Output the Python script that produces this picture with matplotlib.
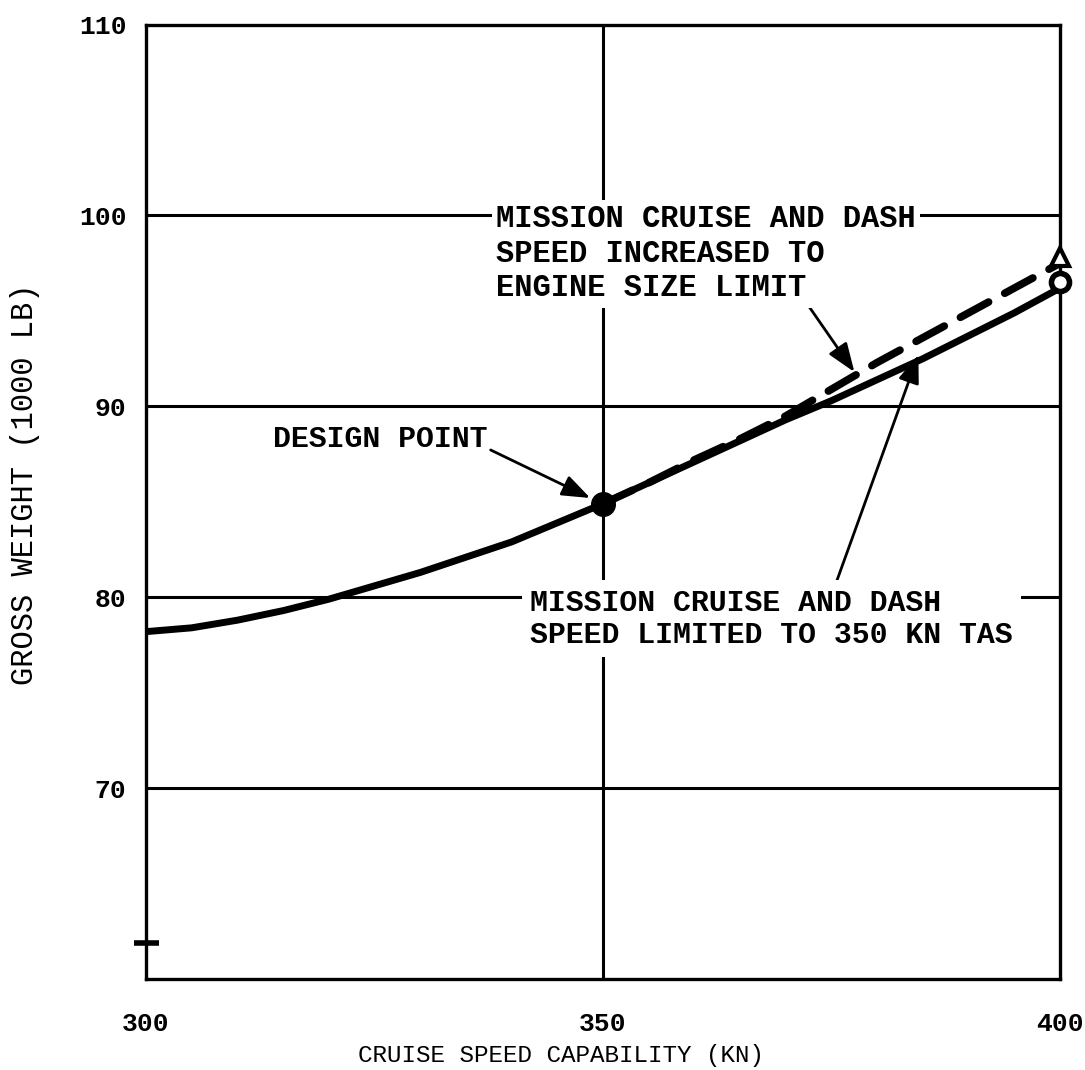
import numpy as np
import matplotlib
matplotlib.use("Agg")
from matplotlib import pyplot as plt

# cruise speed (kn) vs gross weight (1000 lb)
speed_solid = [300, 305, 310, 315, 320, 325, 330, 335, 340, 345, 350,
               355, 360, 365, 370, 375, 380, 385, 390, 395, 400]
weight_solid = [78.2, 78.4, 78.8, 79.3, 79.9, 80.6, 81.3, 82.1, 82.9, 83.9, 84.9,
                86.0, 87.1, 88.2, 89.3, 90.3, 91.4, 92.5, 93.7, 94.9, 96.2]

speed_dash = [350, 355, 360, 365, 370, 375, 380, 385, 390, 395, 400]
weight_dash = [84.9, 86.0, 87.2, 88.3, 89.5, 90.9, 92.3, 93.6, 94.9, 96.2, 97.5]

design_pt = (350, 84.9)
end_circle = (400, 96.5)
end_triangle = (400, 97.8)

x_ticks = [300, 350, 400]
y_ticks = [70, 80, 90, 100, 110]
grid_y = [70, 80, 90, 100]
grid_x = [350]

FONT = "Liberation Mono"

fig = plt.figure(figsize=(10.85, 10.70), dpi=100)
ax = fig.add_axes([0.1346, 0.085, 0.8424, 0.892])

ax.set_xlim(300, 400)
ax.set_ylim(60, 110)

# grid drawn as plain black lines like the original
for gy in grid_y:
    ax.axhline(gy, color="black", lw=2.2, zorder=1)
for gx in grid_x:
    ax.axvline(gx, color="black", lw=2.2, zorder=1)

for s in ax.spines.values():
    s.set_linewidth(2.4)

ax.plot(speed_solid, weight_solid, color="black", lw=5, solid_capstyle="round",
        solid_joinstyle="round", zorder=3)
ax.plot(speed_dash, weight_dash, color="black", lw=5.5, dashes=(4.2, 2.4),
        dash_capstyle="round", zorder=3)

ax.plot(*design_pt, "o", ms=17, color="black", zorder=4)
ax.plot(*end_circle, "o", ms=13, mfc="white", mec="black", mew=4, clip_on=False, zorder=4)
ax.plot(*end_triangle, "^", ms=13, mfc="white", mec="black", mew=3, clip_on=False, zorder=4)

# small break mark on the y axis
ax.plot(300, 61.9, marker="_", ms=18, mew=4, color="black", clip_on=False, zorder=5)

ax.set_xticks(x_ticks)
ax.set_yticks(y_ticks)
ax.tick_params(length=0)
ax.tick_params(axis="x", pad=24)
ax.tick_params(axis="y", pad=14)
for lbl in ax.get_xticklabels() + ax.get_yticklabels():
    lbl.set_fontfamily(FONT)
    lbl.set_fontsize(19)
    lbl.set_fontweight("bold")

ax.set_xlabel("CRUISE SPEED CAPABILITY (KN)", fontfamily=FONT, fontsize=17.5)
ax.xaxis.set_label_coords(0.454, -0.068)
ax.set_ylabel("GROSS WEIGHT (1000 LB)", fontfamily=FONT, fontsize=22)
ax.yaxis.set_label_coords(-0.116, 0.518)

box = dict(facecolor="white", edgecolor="none", pad=3)
arrow = dict(arrowstyle="-|>,head_length=0.8,head_width=0.3", color="black", lw=2,
             shrinkA=0, shrinkB=0)

ax.annotate("DESIGN POINT", xy=(348.6, 85.2), xytext=(337.4, 88.3),
            fontfamily=FONT, fontsize=21.5, fontweight="bold", ha="right", va="center",
            zorder=6, arrowprops=dict(arrow, relpos=(1.0, 0.15)))

ax.annotate("MISSION CRUISE AND DASH\nSPEED INCREASED TO\nENGINE SIZE LIMIT",
            xy=(377.5, 91.8), xytext=(338.3, 100.6),
            fontfamily=FONT, fontsize=22, fontweight="bold", ha="left", va="top",
            linespacing=1.2, bbox=box, zorder=6,
            arrowprops=dict(arrow, relpos=(0.74, 0.0)))

ax.annotate("MISSION CRUISE AND DASH\nSPEED LIMITED TO 350 KN TAS",
            xy=(384.5, 92.7), xytext=(342.0, 80.45),
            fontfamily=FONT, fontsize=21.5, fontweight="bold", ha="left", va="top",
            linespacing=1.2, bbox=dict(box, pad=6), zorder=6,
            arrowprops=dict(arrow, relpos=(0.63, 1.0)))

plt.savefig("out.png", dpi=100)
plt.close()
